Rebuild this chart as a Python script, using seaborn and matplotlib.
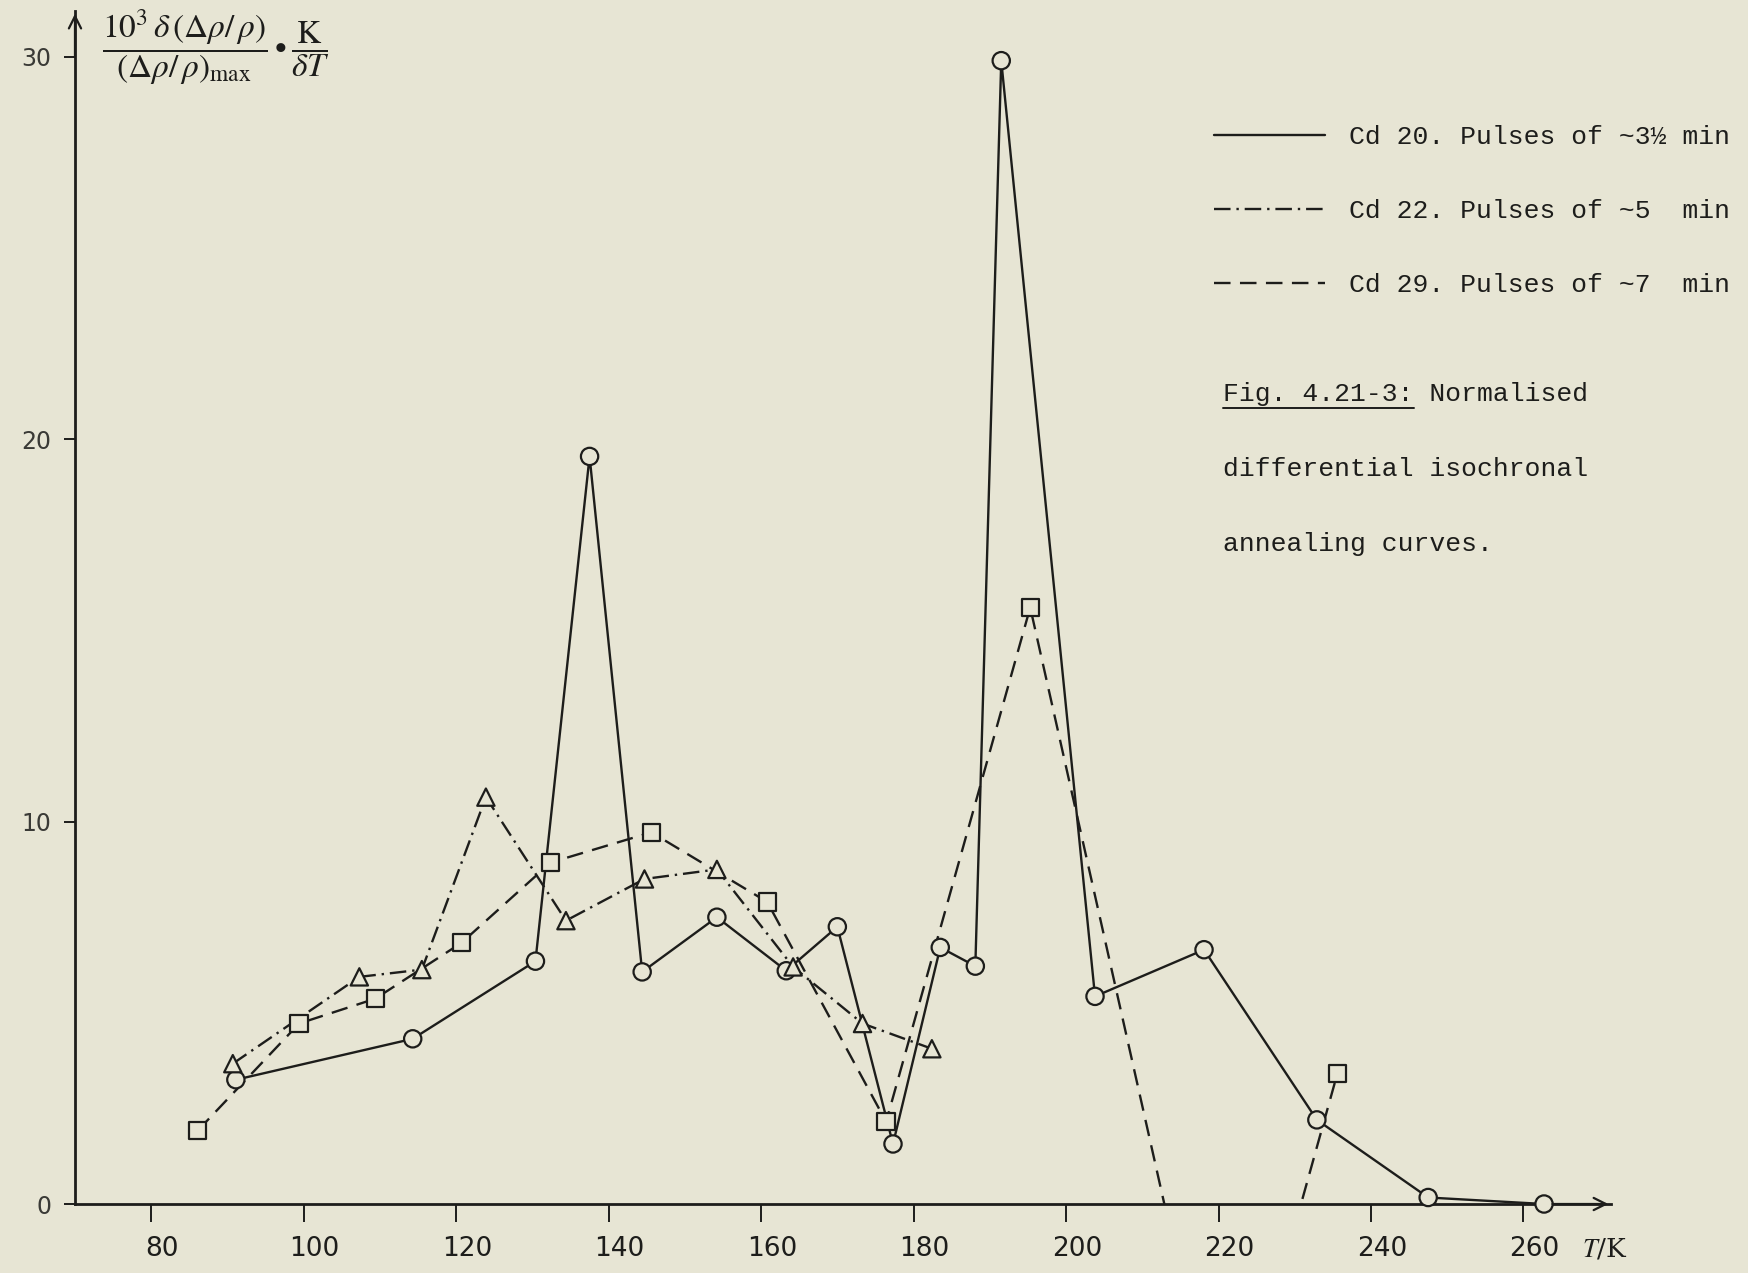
import matplotlib.pyplot as plt
import pandas as pd
import seaborn as sns
from matplotlib.lines import Line2D
from matplotlib.transforms import ScaledTranslation, IdentityTransform

# Data (T in K, normalised differential annealing)
# Cd 20, circles, solid line
t_cd20 = [91.1, 114.3, 130.4, 137.5, 144.4, 154.2, 163.3, 170.0, 177.3, 183.5,
          188.1, 191.5, 203.8, 218.1, 232.9, 247.5, 262.7]
v_cd20 = [3.25, 4.32, 6.35, 19.55, 6.07, 7.5, 6.1, 7.25, 1.57, 6.71,
          6.22, 29.9, 5.43, 6.65, 2.2, 0.17, 0.0]
# Cd 22, triangles, dash-dot line
t_cd22 = [90.7, 107.3, 115.5, 123.9, 134.4, 144.7, 154.2, 164.2, 173.3, 182.4]
v_cd22 = [3.67, 5.94, 6.13, 10.64, 7.41, 8.5, 8.75, 6.2, 4.72, 4.06]
# Cd 29, squares, dashed line (the 221 K value dips below the axis)
t_cd29 = [86.1, 99.4, 109.4, 120.7, 132.4, 145.6, 160.8, 176.4, 195.3, 220.9, 235.6]
v_cd29 = [1.92, 4.72, 5.37, 6.83, 8.93, 9.72, 7.9, 2.15, 15.6, -7.1, 3.42]

series = ['Cd 20', 'Cd 22', 'Cd 29']
labels = ['Cd 20. Pulses of ~3½ min', 'Cd 22. Pulses of ~5  min', 'Cd 29. Pulses of ~7  min']
caption = ['Fig. 4.21-3: Normalised', 'differential isochronal', 'annealing curves.']
x_ticks = [80, 100, 120, 140, 160, 180, 200, 220, 240, 260]
y_ticks = [0, 10, 20, 30]

df = pd.concat([
    pd.DataFrame({'T': t_cd20, 'v': v_cd20, 'series': 'Cd 20'}),
    pd.DataFrame({'T': t_cd22, 'v': v_cd22, 'series': 'Cd 22'}),
    pd.DataFrame({'T': t_cd29, 'v': v_cd29, 'series': 'Cd 29'}),
], ignore_index=True)

ink = '#1d1d1b'
paper = '#e7e5d4'
dash_map = {'Cd 20': '', 'Cd 22': (7, 2.5, 1, 2.5), 'Cd 29': (7, 4)}
marker_map = {'Cd 20': 'o', 'Cd 22': '^', 'Cd 29': 's'}

sns.set_style('ticks')
plt.rcParams['mathtext.fontset'] = 'stix'
mono = ['Liberation Mono', 'DejaVu Sans Mono']

fig = plt.figure(figsize=(17.48, 12.73), dpi=100, facecolor=paper)
ax = fig.add_axes([0.0429, 0.0542, 0.8788, 0.9372], facecolor=paper)

sns.lineplot(data=df, x='T', y='v', style='series', dashes=dash_map, color=ink,
             linewidth=1.7, estimator=None, sort=False, legend=False, ax=ax)
pts = df[df['v'] >= 0]
sns.scatterplot(data=pts, x='T', y='v', style='series', markers=marker_map, s=155,
                facecolor=paper, edgecolor=ink, linewidth=1.6, legend=False,
                clip_on=False, zorder=3, ax=ax)

ax.set_xlim(70, 271.5)
ax.set_ylim(0, 31.2)
ax.set_xlabel('')
ax.set_ylabel('')
for s in ['top', 'right']:
    ax.spines[s].set_visible(False)
for s in ['left', 'bottom']:
    ax.spines[s].set_linewidth(2.0)
    ax.spines[s].set_color(ink)

ax.set_xticks(x_ticks)
ax.set_yticks(y_ticks)
ax.tick_params(axis='x', length=13, width=1.4, pad=10, colors=ink, labelsize=19)
ax.tick_params(axis='y', length=8, width=1.4, pad=9, colors=ink, labelsize=17)
for lab in ax.get_xticklabels():
    lab.set_transform(lab.get_transform() + ScaledTranslation(0.11, 0, fig.dpi_scale_trans))
for lab in ax.get_yticklabels():
    lab.set_color('#3a3a36')

# axis arrows
ax.annotate('', xy=(1, 0), xycoords='axes fraction', xytext=(0.96, 0),
            arrowprops=dict(arrowstyle='->', color=ink, lw=1.6, mutation_scale=22))
ax.annotate('', xy=(0, 1), xycoords='axes fraction', xytext=(0, 0.96),
            arrowprops=dict(arrowstyle='->', color=ink, lw=1.6, mutation_scale=22))

fig.text(1605 / 1748, 1 - 1249 / 1273, r'$T$/K', ha='center', va='center',
         fontsize=19, color=ink, family='DejaVu Serif')

fig.text(0.1235, 0.962,
         r'$\dfrac{10^3\,\delta\,(\Delta\rho/\,\rho)}{(\Delta\rho/\,\rho)_{\mathrm{max}}}\bullet\dfrac{\mathrm{K}}{\delta T}$',
         ha='center', va='center', fontsize=24, color=ink)

# legend
handles = [Line2D([], [], color=ink, lw=1.7, linestyle='-'),
           Line2D([], [], color=ink, lw=1.7, linestyle=(0, dash_map['Cd 22'])),
           Line2D([], [], color=ink, lw=1.7, linestyle=(0, dash_map['Cd 29']))]
ax.legend(handles=handles, labels=labels, loc='center left',
          bbox_to_anchor=(1214 / 1748, 1 - 211 / 1273), bbox_transform=fig.transFigure,
          frameon=False, borderpad=0, borderaxespad=0, handlelength=4.2,
          handletextpad=0.9, labelspacing=1.9, prop={'family': mono, 'size': 19},
          labelcolor=ink)

# caption with underlined figure number
cap_texts = []
for i, line in enumerate(caption):
    cap_texts.append(fig.text(1223 / 1748, 1 - (394 + 75 * i) / 1273, line,
                              ha='left', va='center', fontsize=19, family=mono, color=ink))
renderer = fig.canvas.get_renderer()
bb = cap_texts[0].get_window_extent(renderer)
x1 = bb.x0 + bb.width * 12 / len(caption[0])
fig.add_artist(Line2D([bb.x0, x1], [bb.y0 - 2, bb.y0 - 2], color=ink, lw=1.4,
                      transform=IdentityTransform()))

fig.savefig('out.png', dpi=100, facecolor=paper)
